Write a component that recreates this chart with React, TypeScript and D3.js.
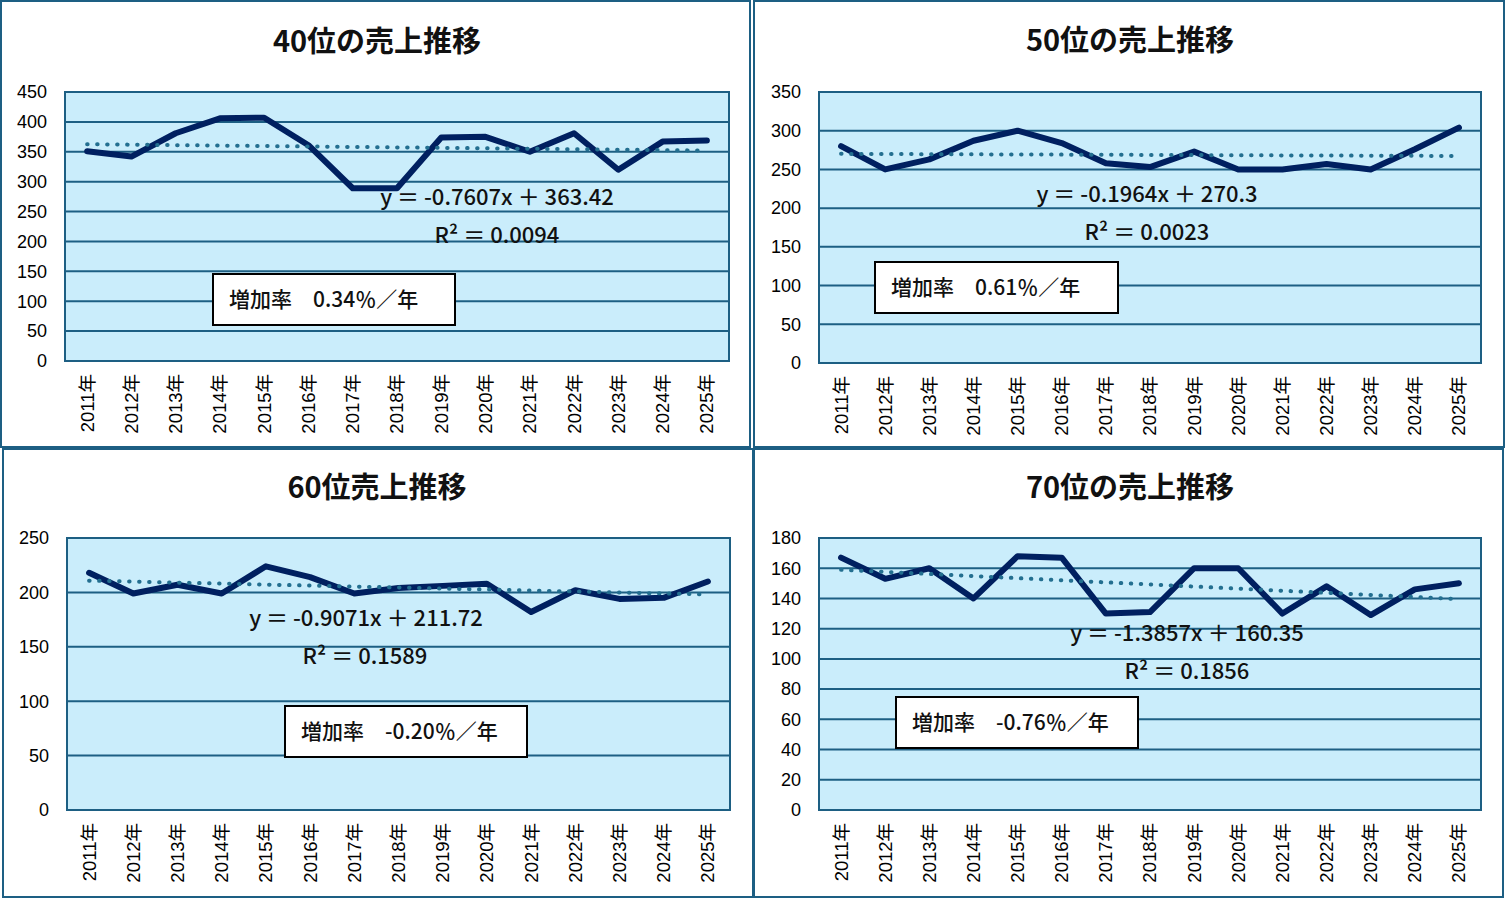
import React from 'react';
import * as d3 from 'd3';

const years = ['2011年', '2012年', '2013年', '2014年', '2015年', '2016年', '2017年', '2018年',
  '2019年', '2020年', '2021年', '2022年', '2023年', '2024年', '2025年'];

// 売上（読み取り値）
const sales40 = [351, 342, 381, 406, 407, 361, 289, 289, 374, 375, 350, 381, 320, 367, 369];
const sales50 = [280, 250, 263, 287, 300, 284, 258, 253, 273, 250, 250, 257, 250, 276, 304];
const sales60 = [218, 199, 207, 199, 224, 214, 199, 204, 206, 208, 182, 202, 194, 195, 210];
const sales70 = [167, 153, 160, 140, 168, 167, 130, 131, 160, 160, 130, 148, 129, 146, 150];

const titles = ['40位の売上推移', '50位の売上推移', '60位売上推移', '70位の売上推移'];
const trendSlopes = [-0.7607, -0.1964, -0.9071, -1.3857];
const trendIntercepts = [363.42, 270.3, 211.72, 160.35];
const rSquared = ['0.0094', '0.0023', '0.1589', '0.1856'];
const growthRates = ['0.34', '0.61', '-0.20', '-0.76'];
const yMaxes = [450, 350, 250, 180];
const yStep = [50, 50, 50, 20];

const seriesList = [sales40, sales50, sales60, sales70];

// レイアウト
const layouts = [
  { frame: [1, 1, 750, 447], plot: [65, 92, 729, 361], title: [377, 52], eq: [497, 205], r2: [497, 243], box: [213, 274, 455, 325] },
  { frame: [754, 1, 1504, 447], plot: [819, 92, 1481, 363], title: [1130, 51], eq: [1147, 202], r2: [1147, 240], box: [875, 262, 1118, 313] },
  { frame: [3, 449, 753, 897], plot: [67, 538, 730, 810], title: [377, 498], eq: [366, 626], r2: [365, 664], box: [285, 706, 527, 757] },
  { frame: [754, 449, 1503, 897], plot: [819, 538, 1481, 810], title: [1130, 498], eq: [1187, 641], r2: [1187, 679], box: [896, 697, 1138, 748] },
];

const BORDER = '#1d5f83';
const PLOT_BG = '#caedfb';
const LINE = '#002060';
const TREND = '#236f90';
const JP = '"Noto Sans CJK JP", "Noto Sans", sans-serif';
const LAT = '"Liberation Sans", Arial, "Noto Sans CJK JP", sans-serif';

interface PanelProps {
  idx: number;
}

const Panel: React.FC<PanelProps> = ({ idx }) => {
  const lay = layouts[idx];
  const values = seriesList[idx];
  const [px0, py0, px1, py1] = lay.plot;
  const [fx0, fy0, fx1, fy1] = lay.frame;

  const x = d3.scalePoint<string>().domain(years).range([px0, px1]).padding(0.5);
  const y = d3.scaleLinear().domain([0, yMaxes[idx]]).range([py1, py0]);
  const ticks = d3.range(0, yMaxes[idx] + 1, yStep[idx]);

  const line = d3.line<number>()
    .x((_d, i) => x(years[i]) as number)
    .y(d => y(d));

  const slope = trendSlopes[idx];
  const intercept = trendIntercepts[idx];
  const trendPts: [number, number][] = [
    [x(years[0]) as number, y(slope * 1 + intercept)],
    [x(years[years.length - 1]) as number, y(slope * years.length + intercept)],
  ];

  const eqText = `y ＝ ${slope}x ＋ ${intercept}`;
  const [bx0, by0, bx1, by1] = lay.box;

  return (
    <g>
      <rect x={fx0} y={fy0} width={fx1 - fx0} height={fy1 - fy0} fill="#fff" stroke={BORDER} strokeWidth={2} />
      <text x={lay.title[0]} y={lay.title[1]} textAnchor="middle" fontFamily={JP} fontWeight={700}
        fontSize={29} fill="#111">{titles[idx]}</text>

      <rect x={px0} y={py0} width={px1 - px0} height={py1 - py0} fill={PLOT_BG} />
      {ticks.map(t => (
        <line key={t} x1={px0} x2={px1} y1={y(t)} y2={y(t)} stroke={BORDER} strokeWidth={2} />
      ))}
      <rect x={px0} y={py0} width={px1 - px0} height={py1 - py0} fill="none" stroke={BORDER} strokeWidth={2} />

      {ticks.map(t => (
        <text key={t} x={px0 - 18} y={y(t)} dy="0.35em" textAnchor="end" fontFamily={LAT}
          fontSize={18} fill="#000">{t}</text>
      ))}
      {years.map(yr => (
        <text key={yr} transform={`translate(${x(yr)},${py1 + 13}) rotate(-90)`} dy="0.35em"
          textAnchor="end" fontFamily={LAT} fontSize={18.5} fill="#000">{yr}</text>
      ))}

      <path d={line(values) || ''} fill="none" stroke={LINE} strokeWidth={6}
        strokeLinejoin="round" strokeLinecap="round" />
      <path d={d3.line()(trendPts) || ''} fill="none" stroke={TREND} strokeWidth={4}
        strokeDasharray="0.5 9.5" strokeLinecap="round" />

      <text x={lay.eq[0]} y={lay.eq[1]} textAnchor="middle" fontFamily={JP} fontWeight={500}
        fontSize={22} fill="#111">{eqText}</text>
      <text x={lay.r2[0]} y={lay.r2[1]} textAnchor="middle" fontFamily={JP} fontWeight={500}
        fontSize={22} fill="#111">R² ＝ {rSquared[idx]}</text>

      <rect x={bx0} y={by0} width={bx1 - bx0} height={by1 - by0} fill="#fff" stroke="#000" strokeWidth={2} />
      <text x={bx0 + 16} y={(by0 + by1) / 2} dy="0.36em" fontFamily={JP} fontWeight={500}
        fontSize={21} fill="#111">{`増加率　${growthRates[idx]}％／年`}</text>
    </g>
  );
};

export default function App() {
  return (
    <svg width={1506} height={899} style={{ position: 'absolute', left: 0, top: 0, display: 'block' }}>
      <rect width={1506} height={899} fill="#fff" />
      {layouts.map((_l, i) => <Panel key={i} idx={i} />)}
    </svg>
  );
}
